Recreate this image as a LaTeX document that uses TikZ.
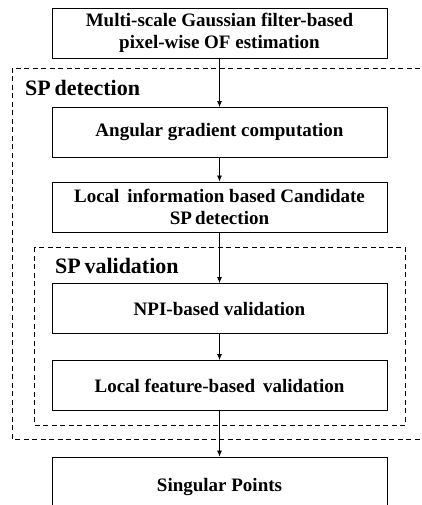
\documentclass[tikz,border=0pt]{standalone}
\usepackage{fontspec}
\setmainfont{Liberation Serif}
\usetikzlibrary{arrows.meta}
\begin{document}
\begin{tikzpicture}[x=1pt,y=-1pt,
    stage/.style={draw,line width=0.9pt,minimum width=335pt,minimum height=50pt,
      align=center,font=\fontsize{19}{22}\selectfont\bfseries,inner sep=0pt},
    flow/.style={-{Latex[length=6pt,width=5pt]},line width=0.7pt},
    group/.style={dash pattern=on 5pt off 3.5pt,line width=0.9pt},
    grouplabel/.style={anchor=base west,inner sep=0pt,font=\fontsize{22}{26}\selectfont\bfseries}]
  \useasboundingbox (0,0) rectangle (422,505);
  \clip (0,0) rectangle (422,505);
  % groups
  \draw[group] (12,68) rectangle (440,439);
  \node[grouplabel] (detlabel) at (25,96) {SP\,detection};
  \draw[group] (34,247) rectangle (405,425);
  \node[grouplabel] (vallabel) at (55,273) {SP\,validation};
  % stages
  \node[stage] (ofest) at (219.5,33) {Multi-scale Gaussian filter-based\\pixel-wise OF estimation};
  \node[stage] (angrad) at (219.5,132.5) {Angular gradient computation};
  \node[stage] (cand) at (219.5,207) {Local\, information based Candidate\\SP\,detection};
  \node[stage] (npi) at (219.5,308.5) {NPI-based validation};
  \node[stage] (locfeat) at (219.5,385.5) {Local feature-based\, validation};
  \node[stage,minimum height=60pt] (sp) at (219.5,487) {Singular Points};
  % arrows
  \draw[flow] (ofest) -- (angrad);
  \draw[flow] (angrad) -- (cand);
  \draw[flow] (cand) -- (npi);
  \draw[flow] (npi) -- (locfeat);
  \draw[flow] (locfeat) -- (sp);
\end{tikzpicture}
\end{document}
